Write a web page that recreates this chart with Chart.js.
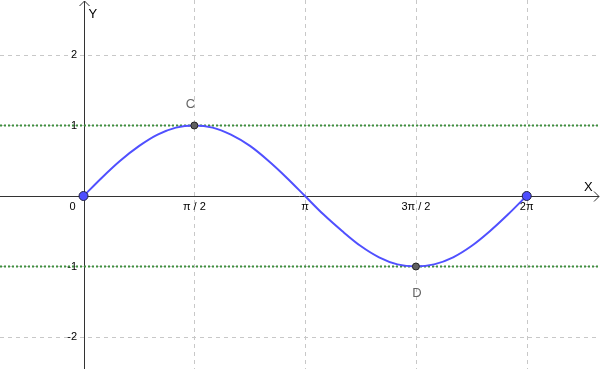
<!DOCTYPE html>
<html lang="en">
<head>
    <meta charset="UTF-8">
    <title>Sine curve</title>
    <style>
        html, body { margin: 0; padding: 0; background: #ffffff; }
        #wrap { width: 600px; height: 369px; }
    </style>
    <script src="https://cdn.jsdelivr.net/npm/chart.js"></script>
</head>
<body>
<div id="wrap"><canvas id="sineChart"></canvas></div>
<script>
    // curve samples (x in radians)
    var curveX = [0, 0.26, 0.52, 0.79, 1.05, 1.31, 1.57, 1.83, 2.09, 2.36, 2.62, 2.88, 3.14,
                  3.40, 3.67, 3.93, 4.19, 4.45, 4.71, 4.97, 5.24, 5.50, 5.76, 6.02, 6.28];
    var curveY = [0, 0.26, 0.5, 0.71, 0.87, 0.97, 1, 0.97, 0.87, 0.71, 0.5, 0.26, 0,
                  -0.26, -0.5, -0.71, -0.87, -0.97, -1, -0.97, -0.87, -0.71, -0.5, -0.26, 0];

    var xTickValues = [0, 1.5708, 3.1416, 4.7124, 6.2832];
    var xTickLabels = ["0", "\u03c0 / 2", "\u03c0", "3\u03c0 / 2", "2\u03c0"];
    var yTickValues = [-2, -1, 1, 2];
    var yTickLabels = ["-2", "-1", "1", "2"];

    var namedPoints = [
        {name: "C", x: 1.5708, y: 1},
        {name: "D", x: 4.7124, y: -1}
    ];
    var endPoints = [{x: 0, y: 0}, {x: 6.2832, y: 0}];
    var levelLines = [1, -1];

    var xMin = -1.184, xMax = 7.322;
    var yMin = -2.454, yMax = 2.78;

    var curveData = curveX.map((x, i) => ({x: x, y: curveY[i]}));

    var axesPlugin = {
        id: "axesPlugin",
        beforeDatasetsDraw(chart) {
            var ctx = chart.ctx;
            var xs = chart.scales.x, ys = chart.scales.y;
            var area = chart.chartArea;
            ctx.save();
            ctx.strokeStyle = "#c8c8c8";
            ctx.lineWidth = 1;
            ctx.setLineDash([4, 4]);
            xTickValues.slice(1).forEach(v => {
                var px = Math.round(xs.getPixelForValue(v)) + 0.5;
                ctx.beginPath(); ctx.moveTo(px, area.top); ctx.lineTo(px, area.bottom); ctx.stroke();
            });
            yTickValues.forEach(v => {
                var py = Math.round(ys.getPixelForValue(v)) + 0.5;
                ctx.beginPath(); ctx.moveTo(area.left, py); ctx.lineTo(area.right, py); ctx.stroke();
            });
            ctx.setLineDash([]);

            // axes
            var ox = Math.round(xs.getPixelForValue(0)) + 0.5;
            var oy = Math.round(ys.getPixelForValue(0)) + 0.5;
            ctx.strokeStyle = "#333333";
            ctx.beginPath();
            ctx.moveTo(area.left, oy); ctx.lineTo(area.right - 1, oy);
            ctx.moveTo(ox, area.bottom); ctx.lineTo(ox, area.top + 1);
            ctx.stroke();
            // arrow heads
            ctx.beginPath();
            ctx.moveTo(area.right - 6, oy - 5); ctx.lineTo(area.right - 1, oy); ctx.lineTo(area.right - 6, oy + 5);
            ctx.moveTo(ox - 5, area.top + 6); ctx.lineTo(ox, area.top + 1); ctx.lineTo(ox + 5, area.top + 6);
            ctx.stroke();

            // tick labels
            ctx.fillStyle = "#000000";
            ctx.font = "11px 'Liberation Sans', Arial, sans-serif";
            ctx.textBaseline = "middle";
            xTickValues.forEach((v, i) => {
                var px = xs.getPixelForValue(v);
                if (v === 0) {
                    ctx.textAlign = "right";
                    ctx.fillText(xTickLabels[i], px - 8, oy + 10);
                } else {
                    ctx.textAlign = "center";
                    ctx.fillText(xTickLabels[i], px, oy + 10);
                }
            });
            ctx.textAlign = "right";
            yTickValues.forEach((v, i) => {
                ctx.fillText(yTickLabels[i], ox - 7.5, ys.getPixelForValue(v));
            });

            // axis names
            ctx.font = "13px 'Liberation Sans', Arial, sans-serif";
            ctx.textAlign = "left";
            ctx.fillText("X", area.right - 16, oy - 9);
            ctx.fillText("Y", ox + 4, area.top + 14);

            // point names
            ctx.fillStyle = "#666666";
            ctx.textAlign = "center";
            namedPoints.forEach(p => {
                var px = xs.getPixelForValue(p.x), py = ys.getPixelForValue(p.y);
                if (p.y > 0) {
                    ctx.fillText(p.name, px - 4, py - 21);
                } else {
                    ctx.fillText(p.name, px + 1, py + 27);
                }
            });
            ctx.restore();
        }
    };

    var datasets = levelLines.map(v => ({
        data: [{x: xMin, y: v}, {x: xMax, y: v}],
        showLine: true,
        borderColor: "#3f8f3f",
        borderWidth: 2,
        borderDash: [2, 2],
        pointRadius: 0,
        order: 3
    }));
    datasets.push({
        data: curveData,
        showLine: true,
        borderColor: "#5050ff",
        borderWidth: 2,
        cubicInterpolationMode: "monotone",
        pointRadius: 0,
        order: 2
    });
    datasets.push({
        data: namedPoints.map(p => ({x: p.x, y: p.y})),
        showLine: false,
        pointRadius: 3.5,
        pointBackgroundColor: "#606060",
        pointBorderColor: "#222222",
        pointBorderWidth: 1,
        order: 1
    });
    datasets.push({
        data: endPoints,
        showLine: false,
        pointRadius: 4.5,
        pointBackgroundColor: "#4d4dff",
        pointBorderColor: "#222244",
        pointBorderWidth: 1,
        order: 0
    });

    new Chart(document.getElementById("sineChart"), {
        type: "scatter",
        data: {datasets: datasets},
        options: {
            responsive: true,
            maintainAspectRatio: false,
            animation: false,
            layout: {padding: 0, autoPadding: false},
            plugins: {legend: {display: false}, tooltip: {enabled: false}},
            scales: {
                x: {type: "linear", min: xMin, max: xMax, display: false},
                y: {type: "linear", min: yMin, max: yMax, display: false}
            }
        },
        plugins: [axesPlugin]
    });
</script>
</body>
</html>
